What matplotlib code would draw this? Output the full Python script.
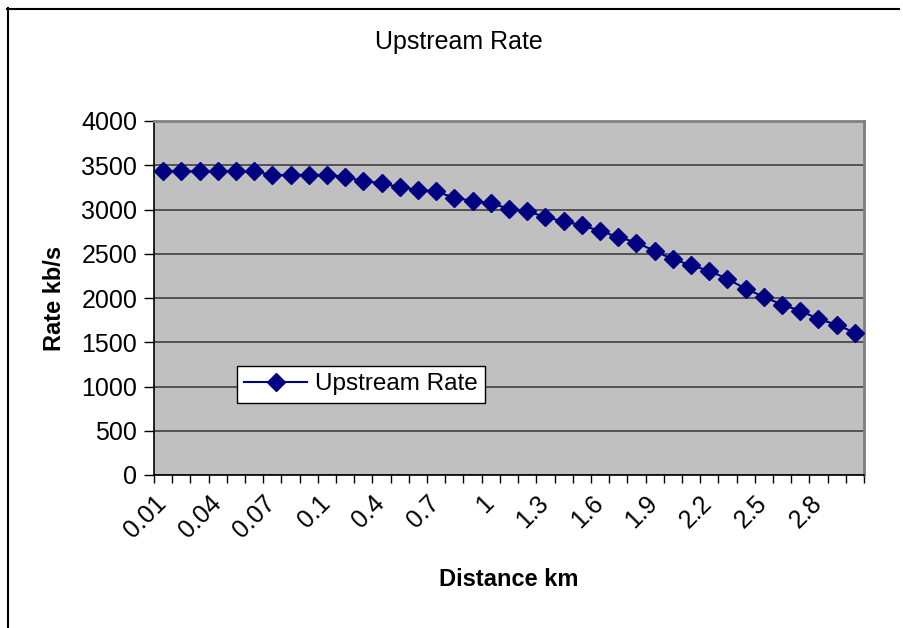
import matplotlib
matplotlib.use("Agg")
import matplotlib.pyplot as plt
from matplotlib.lines import Line2D
from matplotlib.transforms import ScaledTranslation

plt.rcParams['font.family'] = ['Liberation Sans', 'DejaVu Sans']

# distances (km) and upstream rate (kb/s)
distances = ["0.01", "0.02", "0.03", "0.04", "0.05", "0.06", "0.07", "0.08", "0.09",
             "0.1", "0.2", "0.3", "0.4", "0.5", "0.6", "0.7", "0.8", "0.9", "1",
             "1.1", "1.2", "1.3", "1.4", "1.5", "1.6", "1.7", "1.8", "1.9", "2",
             "2.1", "2.2", "2.3", "2.4", "2.5", "2.6", "2.7", "2.8", "2.9", "3"]
upstream = [3430, 3430, 3430, 3430, 3430, 3430, 3390, 3390, 3390,
            3390, 3370, 3318, 3300, 3250, 3224, 3205, 3130, 3100, 3070,
            3010, 2982, 2914, 2866, 2822, 2757, 2689, 2626, 2532, 2438,
            2371, 2306, 2216, 2104, 2014, 1924, 1856, 1763, 1698, 1608]
y_ticks = [0, 500, 1000, 1500, 2000, 2500, 3000, 3500, 4000]

W, H = 904, 628
fig = plt.figure(figsize=(W / 100, H / 100), dpi=100)
ax = fig.add_axes([154 / W, (H - 475) / H, 710 / W, 354 / H])
ax.set_facecolor('#C0C0C0')

n = len(distances)
xs = list(range(n))
ax.plot(xs, upstream, color='#000080', lw=1.5, marker='D', ms=9,
        markeredgecolor='#000080', label='Upstream Rate', zorder=3)

ax.set_xlim(-0.5, n - 0.5)
ax.set_ylim(0, 4000)
ax.set_yticks(y_ticks)
ax.yaxis.grid(True, color='#404040', lw=1.2)
ax.set_axisbelow(True)

# ticks between categories, labels on every 3rd category
ax.set_xticks([i - 0.5 for i in range(n + 1)])
ax.set_xticklabels([])
ax.tick_params(axis='x', length=6, width=1, color='black')
ax.tick_params(axis='y', length=7, width=1, labelsize=18, pad=5)

lab_tr = ax.get_xaxis_transform() + ScaledTranslation(-9 / 100, -16 / 100, fig.dpi_scale_trans)
for i in xs[::3]:
    ax.text(i, 0, distances[i], transform=lab_tr, rotation=45, ha='right', va='top',
            rotation_mode='anchor', fontsize=18)

for s in ['left', 'bottom']:
    ax.spines[s].set_color('black')
    ax.spines[s].set_linewidth(1.2)
for s in ['top', 'right']:
    ax.spines[s].set_color('#808080')
    ax.spines[s].set_linewidth(2)

ax.set_ylabel('Rate kb/s', fontsize=17, fontweight='bold', va='center')
ax.yaxis.set_label_coords((55 - 154) / 710, 0.5)
ax.set_xlabel('Distance km', fontsize=17, fontweight='bold', va='center')
ax.xaxis.set_label_coords(0.5, (475 - 580) / 354)
fig.text(459 / W, 1 - 42 / H, 'Upstream Rate', fontsize=18, ha='center', va='center')

leg = ax.legend(loc='upper left', bbox_to_anchor=((237 - 154) / 710, (475 - 366) / 354),
                fontsize=17.5, frameon=True, fancybox=False, framealpha=1,
                edgecolor='black', handlelength=2.6, borderpad=0.3,
                handletextpad=0.3, borderaxespad=0)
leg.get_frame().set_linewidth(1)

# outer chart frame
fig.add_artist(Line2D([7.5 / W, 7.5 / W], [0, 1 - 8 / H], color='black', lw=1.5))
fig.add_artist(Line2D([7 / W, 899 / W], [1 - 8.5 / H, 1 - 8.5 / H], color='black', lw=1.5))

fig.savefig('out.png', dpi=100)
